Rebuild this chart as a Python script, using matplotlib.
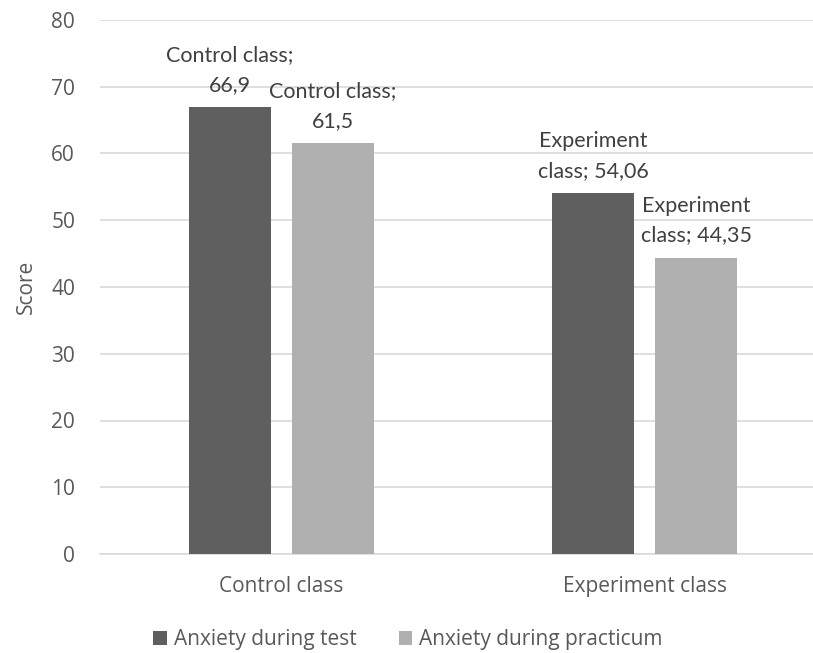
import matplotlib
matplotlib.use("Agg")
import matplotlib.pyplot as plt
import numpy as np

plt.rcParams['font.family'] = ['Open Sans', 'DejaVu Sans']

categories = ["Control class", "Experiment class"]
series_names = ["Anxiety during test", "Anxiety during practicum"]
test_scores = [66.9, 54.06]
practicum_scores = [61.5, 44.35]
value_text_test = ["66,9", "54,06"]
value_text_practicum = ["61,5", "44,35"]
yticks = [0, 10, 20, 30, 40, 50, 60, 70, 80]

dark = "#5f5f5f"
light = "#b0b0b0"
text_col = "#595959"
label_col = "#404040"
grid_col = "#d9d9d9"

W, H = 813, 653
fig = plt.figure(figsize=(W / 100, H / 100), dpi=100)
# plot area: left edge at 100 px, runs past the right border, baseline at 554 px, top at 20 px
ax = fig.add_axes([100 / W, (H - 554) / H, 726 / W, 534 / H])

x = np.arange(len(categories))
w = 0.226
off = 0.142
b1 = ax.bar(x - off, test_scores, width=w, color=dark, label=series_names[0], zorder=3)
b2 = ax.bar(x + off, practicum_scores, width=w, color=light, label=series_names[1], zorder=3)

ax.set_xlim(-0.5, 1.5)
ax.set_ylim(0, 80)
ax.set_yticks(yticks)
ax.set_xticks(x)
ax.set_xticklabels(categories)
ax.yaxis.grid(True, color=grid_col, linewidth=1.2)
ax.set_axisbelow(True)
for s in ["top", "right", "left"]:
    ax.spines[s].set_visible(False)
ax.spines["bottom"].set_color(grid_col)
ax.spines["bottom"].set_linewidth(1.2)
ax.tick_params(axis="both", length=0, labelsize=15, colors=text_col)
ax.tick_params(axis="y", pad=18)
ax.tick_params(axis="x", pad=16)
ax.set_ylabel("Score", fontsize=15, color=text_col, labelpad=10)

wrap = {
    0: ("Control class;\n", "Control class;\n"),
    1: ("Experiment\nclass; ", "Experiment\nclass; "),
}
for i in range(len(categories)):
    for bars, vals, txts, j in ((b1, test_scores, value_text_test, 0),
                                (b2, practicum_scores, value_text_practicum, 1)):
        bar = bars[i]
        ax.annotate(wrap[i][j] + txts[i],
                    xy=(bar.get_x() + bar.get_width() / 2, vals[i]),
                    xytext=(0, 9), textcoords="offset points",
                    ha="center", va="bottom", fontsize=15.5, color=label_col,
                    family=["Lato", "DejaVu Sans"],
                    linespacing=1.62, zorder=4, annotation_clip=False)

leg = fig.legend(handles=[b1, b2], labels=series_names, loc="center",
                 bbox_to_anchor=(408 / W, (H - 640) / H), ncol=2, frameon=False,
                 fontsize=15, handlelength=0.65, handleheight=0.65,
                 handletextpad=0.35, columnspacing=2.0, borderpad=0)
for t in leg.get_texts():
    t.set_color(text_col)

fig.savefig("out.png", dpi=100)
